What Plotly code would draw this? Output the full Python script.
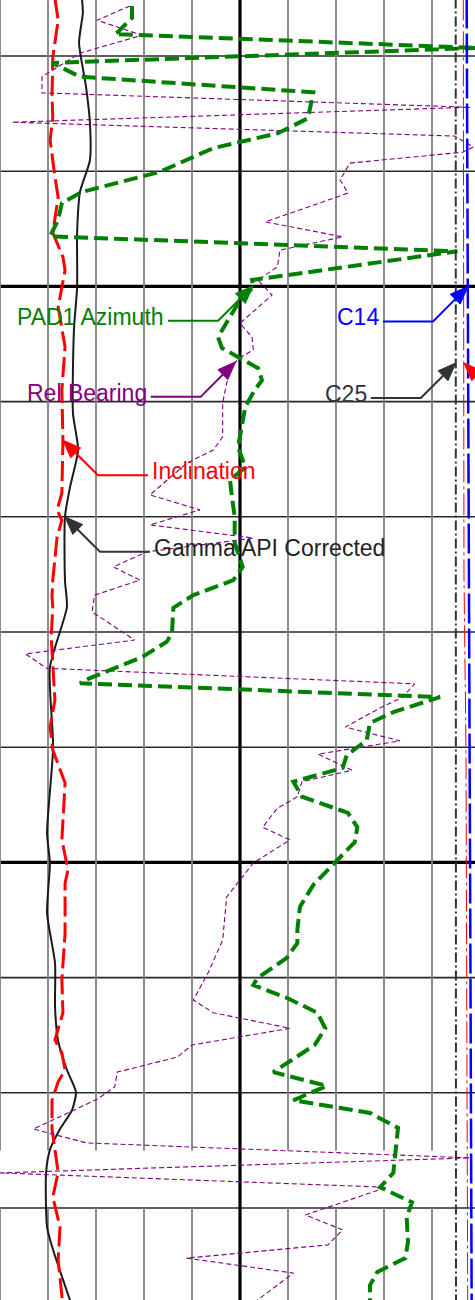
import numpy as np
import plotly.graph_objects as go

# Depth window shown in the track (m, increasing downwards)
DEPTH_TOP = 1505.028
DEPTH_BASE = 1527.597

# Track is 10 divisions wide; the page shows 475 of its 480 px
VISIBLE = 475 / 480

# ---------------- curve data ----------------
GR_DEPTH = [1505.00, 1505.25, 1505.77, 1506.54, 1507.16, 1507.81, 1508.36, 1509.07,
            1510.01, 1510.76, 1512.20, 1512.84, 1513.48, 1514.00, 1515.10, 1515.57,
            1516.61, 1518.00, 1519.49, 1520.01, 1520.88, 1521.75, 1522.51, 1523.08,
            1523.60, 1523.99, 1524.30, 1524.63, 1524.99, 1525.39, 1526.33, 1526.73,
            1527.70]
GR_API = [25.6, 25.9, 24.7, 26.9, 28.1, 28.1, 25.0, 24.1,
          24.1, 23.1, 22.8, 24.4, 21.9, 20.3, 20.3, 20.9,
          15.6, 16.6, 14.7, 15.6, 14.7, 17.2, 17.2, 18.1,
          20.9, 23.75, 22.5, 18.75, 15.6, 14.4, 14.7, 16.6,
          22.5]

INC_DEPTH = [1505.00, 1505.38, 1506.02, 1506.71, 1507.06, 1507.46, 1508.10, 1508.45,
             1509.07, 1509.49, 1509.72, 1510.36, 1511.05, 1511.80, 1512.67, 1513.59,
             1513.88, 1514.06, 1514.35, 1515.10, 1515.39, 1515.57, 1516.09, 1517.18,
             1517.65, 1518.05, 1518.62, 1519.61, 1520.13, 1520.36, 1521.23, 1522.04,
             1522.61, 1523.08, 1523.31, 1523.60, 1523.81, 1524.13, 1524.63, 1525.38,
             1525.81, 1526.33, 1526.90, 1527.70]
INC_DEG = [10.3, 10.9, 9.9, 9.75, 9.9, 9.4, 10.3, 10.9,
           9.9, 11.8, 12.2, 10.9, 12.2, 11.6, 11.8, 11.6,
           10.7, 11.6, 10.7, 9.9, 9.75, 9.9, 9.6, 10.3,
           9.4, 9.9, 12.2, 11.6, 12.75, 12.2, 12.2, 11.6,
           11.8, 10.3, 11.6, 12.2, 10.9, 9.75, 9.75, 10.9,
           9.9, 11.25, 10.9, 11.8]

AZ_DEPTH = [1505.13, 1505.34, 1505.58, 1505.62, 1505.86, 1506.12, 1506.36, 1506.63,
            1507.08, 1507.34, 1507.60, 1507.81, 1508.01, 1508.36, 1508.55, 1508.85,
            1509.13, 1509.39, 1509.89, 1510.01, 1510.24, 1510.53, 1510.88, 1511.07,
            1511.24, 1511.42, 1511.63, 1511.80, 1512.09, 1512.61, 1512.79, 1513.14,
            1513.36, 1513.66, 1514.00, 1514.45, 1514.87, 1515.10, 1515.36, 1515.58,
            1516.02, 1516.17, 1516.43, 1516.80, 1516.89, 1517.13, 1517.39, 1517.58,
            1517.88, 1518.14, 1518.36, 1518.60, 1518.86, 1519.14, 1519.39, 1519.65,
            1519.96, 1520.39, 1520.77, 1521.17, 1521.40, 1521.66, 1522.01, 1522.13,
            1522.35, 1522.61, 1522.88, 1523.17, 1523.64, 1523.88, 1524.13, 1524.35,
            1524.61, 1525.22, 1525.39, 1525.64, 1525.90, 1526.16, 1526.59, 1526.87,
            1527.11, 1527.34, 1527.70]
AZ_DEG = [99, 99, 88.5, 86, 359, 39, 60, 235,
          231, 208.5, 160, 140, 120, 61.5, 46.5, 43.5,
          37.5, 343, 189, 190, 180, 172.5, 163.5, 166.5,
          180, 193.5, 196.5, 191, 184, 180, 178.5, 184,
          172.5, 174, 176, 176, 182, 175, 145, 130,
          129, 125, 107, 67.5, 60, 330, 295, 277.5,
          275, 260, 257, 220, 226.5, 261, 268, 266,
          253, 235, 225, 223, 223, 215, 193, 190,
          215, 238, 244, 236, 205, 245, 220, 277.5,
          298.5, 296, 295, 285, 309, 305, 306, 304,
          283, 277.5, 277.5]

RB_DEPTH = [1505.13, 1505.38, 1505.64, 1505.95, 1506.36, 1506.64, 1506.89, 1507.15,
            1507.39, 1507.58, 1507.67, 1507.86, 1508.15, 1508.38, 1508.88, 1509.14,
            1509.37, 1509.66, 1509.89, 1510.15, 1510.64, 1510.88, 1511.10, 1511.24,
            1511.40, 1512.02, 1512.61, 1512.84, 1513.07, 1513.62, 1513.88, 1514.14,
            1514.37, 1514.61, 1514.87, 1515.10, 1515.36, 1515.65, 1516.14, 1516.38,
            1516.63, 1516.90, 1517.13, 1517.32, 1517.65, 1517.89, 1518.12, 1518.40,
            1518.60, 1518.86, 1519.06, 1519.39, 1519.61, 1520.01, 1520.60, 1521.35,
            1521.92, 1522.39, 1522.61, 1522.88, 1523.17, 1523.38, 1523.64, 1523.90,
            1524.11, 1524.63, 1524.87, 1525.13, 1525.39, 1525.64, 1526.12, 1526.38,
            1526.64, 1526.87, 1527.13, 1527.60]
RB_DEG = [97.5, 72.75, 106.5, 60, 31.5, 31.5, 352.5, 9,
          341, 355, 347, 262.5, 255, 261, 199, 257,
          210, 208, 193.5, 204, 180, 189, 190, 180,
          172.5, 167, 167, 160, 140, 112.5, 150, 112.5,
          190, 110, 85, 105, 71, 69, 101, 19,
          35, 311, 302, 285, 259, 300, 238.5, 264,
          226.5, 223, 208, 197, 217.5, 190, 170, 167,
          156, 145, 160, 217.5, 144, 133, 88, 86,
          73, 25, 65, 352.5, 0, 290, 229, 257,
          246, 140, 220, 193]

CAL_DEPTH = [1505.00, 1510.00, 1515.00, 1518.00, 1522.00, 1527.70]
C14_IN = [8.861, 8.875, 8.885, 8.893, 8.901, 8.913]
C25_IN = [8.747, 8.748, 8.748, 8.749, 8.749, 8.750]
C36_IN = [8.826, 8.833, 8.833, 8.854, 8.861, 8.872]

# Full-track scale of each curve (left, right)
GR_SCALE = (0, 150)
INC_SCALE = (0, 90)
DIR_SCALE = (0, 360)
CAL_SCALE = (4, 9)

FONT = "Liberation Sans, Arial, sans-serif"


def visible_range(scale):
    lo, hi = scale
    return [lo, lo + (hi - lo) * VISIBLE]


fig = go.Figure()

# Rel Bearing
fig.add_trace(go.Scatter(x=RB_DEG, y=RB_DEPTH, xaxis="x4", yaxis="y", mode="lines",
                         line=dict(color="#800080", width=1.1, dash="5px,3px")))
# Gamma
fig.add_trace(go.Scatter(x=GR_API, y=GR_DEPTH, xaxis="x2", yaxis="y", mode="lines",
                         line=dict(color="#1a1a1a", width=2, shape="spline", smoothing=0.6)))
# Inclination
fig.add_trace(go.Scatter(x=INC_DEG, y=INC_DEPTH, xaxis="x3", yaxis="y", mode="lines",
                         line=dict(color="#ff0000", width=3, dash="20px,6px")))
# PAD1 Azimuth
fig.add_trace(go.Scatter(x=AZ_DEG, y=AZ_DEPTH, xaxis="x4", yaxis="y", mode="lines",
                         line=dict(color="#008000", width=4, dash="14px,6px")))
# Calipers
fig.add_trace(go.Scatter(x=C25_IN, y=CAL_DEPTH, xaxis="x5", yaxis="y", mode="lines",
                         line=dict(color="#333333", width=2, dash="10px,3px,2px,3px")))
fig.add_trace(go.Scatter(x=C36_IN, y=CAL_DEPTH, xaxis="x5", yaxis="y", mode="lines",
                         line=dict(color="#ff0000", width=1, dash="22px,4px,3px,4px")))
fig.add_trace(go.Scatter(x=C14_IN, y=CAL_DEPTH, xaxis="x5", yaxis="y", mode="lines",
                         line=dict(color="#0000ff", width=2.5, dash="30px,5px")))

# ---------------- grid ----------------
GRID_MINOR = 2      # m between depth lines
GRID_MAJOR = 10     # m between heavy depth lines
GAP_TOP, GAP_BASE = 1525.0, 1526.0   # break in the vertical division lines

for d in np.arange(1506, 1528, GRID_MINOR):
    heavy = d % GRID_MAJOR == 0
    fig.add_shape(type="line", xref="paper", yref="y", x0=0, x1=1, y0=d, y1=d,
                  layer="below",
                  line=dict(color="#000000" if heavy else "#2a2a2a",
                            width=3.2 if heavy else 1.6))

for k in range(0, 10):
    if k == 5:
        fig.add_shape(type="line", xref="x", yref="y", x0=k, x1=k,
                      y0=DEPTH_TOP, y1=DEPTH_BASE, layer="below",
                      line=dict(color="#000000", width=3.2))
        continue
    for y0, y1 in ((DEPTH_TOP, GAP_TOP), (GAP_BASE, DEPTH_BASE)):
        fig.add_shape(type="line", xref="x", yref="y", x0=k, x1=k, y0=y0, y1=y1,
                      layer="below", line=dict(color="#808080", width=1.8))


# ---------------- curve labels with bent leaders ----------------
def add_label(xref, depth_arr, val_arr, depth, text, color, side, text_color=None):
    x_tip = float(np.interp(depth, depth_arr, val_arr))
    ex, ey = 35 * side, 35          # elbow, screen px from the tip (down = +)
    sx = ex + 50 * side             # end of the horizontal run
    head_len, head_w = 18, 14
    n = np.hypot(ex, ey)
    ux, uy = -ex / n, -ey / n       # direction elbow -> tip
    px, py = -uy, ux
    bx, by = -ux * head_len, -uy * head_len
    b1 = (bx + px * head_w / 2, by + py * head_w / 2)
    b2 = (bx - px * head_w / 2, by - py * head_w / 2)

    def P(x, y):
        return f"{x:.2f},{-y:.2f}"

    common = dict(type="path", xref=xref, yref="y", xsizemode="pixel",
                  ysizemode="pixel", xanchor=x_tip, yanchor=depth)
    fig.add_shape(path=f"M{P(sx, ey)} L{P(ex, ey)} L{P(bx, by)}",
                  line=dict(color=color, width=2), **common)
    fig.add_shape(path=f"M{P(0, 0)} L{P(*b1)} L{P(*b2)} Z",
                  fillcolor=color, line=dict(color=color, width=1), **common)
    if text:
        fig.add_annotation(xref=xref, yref="y", x=x_tip, y=depth, text=text,
                           showarrow=False, xanchor="right" if side < 0 else "left",
                           yanchor="middle", xshift=sx + 2 * side, yshift=-(ey - 4),
                           font=dict(family=FONT, size=23, color=text_color or color))


add_label("x4", AZ_DEPTH, AZ_DEG, 1509.99, "PAD1 Azimuth", "#008000", -1)
add_label("x5", CAL_DEPTH, C14_IN, 1510.00, "C14", "#0000ff", -1)
add_label("x4", RB_DEPTH, RB_DEG, 1511.31, "Rel Bearing", "#800080", -1)
add_label("x5", CAL_DEPTH, C25_IN, 1511.33, "C25", "#333333", -1)
# the third caliper's leader runs off the right edge of the track
add_label("x5", CAL_DEPTH, C36_IN, 1511.33, None, "#ff0000", 1)
add_label("x3", INC_DEPTH, INC_DEG, 1512.67, "Inclination", "#ff0000", 1)
add_label("x2", GR_DEPTH, GR_API, 1514.00, "Gamma API Corrected", "#333333", 1,
          text_color="#222222")

hidden = dict(visible=False, fixedrange=True)
fig.update_layout(
    width=475, height=1300,
    margin=dict(l=0, r=0, t=0, b=0),
    paper_bgcolor="white", plot_bgcolor="white",
    showlegend=False, hovermode=False,
    xaxis=dict(range=[0, 10 * VISIBLE], **hidden),
    xaxis2=dict(range=visible_range(GR_SCALE), overlaying="x", **hidden),
    xaxis3=dict(range=visible_range(INC_SCALE), overlaying="x", **hidden),
    xaxis4=dict(range=visible_range(DIR_SCALE), overlaying="x", **hidden),
    xaxis5=dict(range=visible_range(CAL_SCALE), overlaying="x", **hidden),
    yaxis=dict(range=[DEPTH_BASE, DEPTH_TOP], **hidden),
)

fig.write_html("out.html")
